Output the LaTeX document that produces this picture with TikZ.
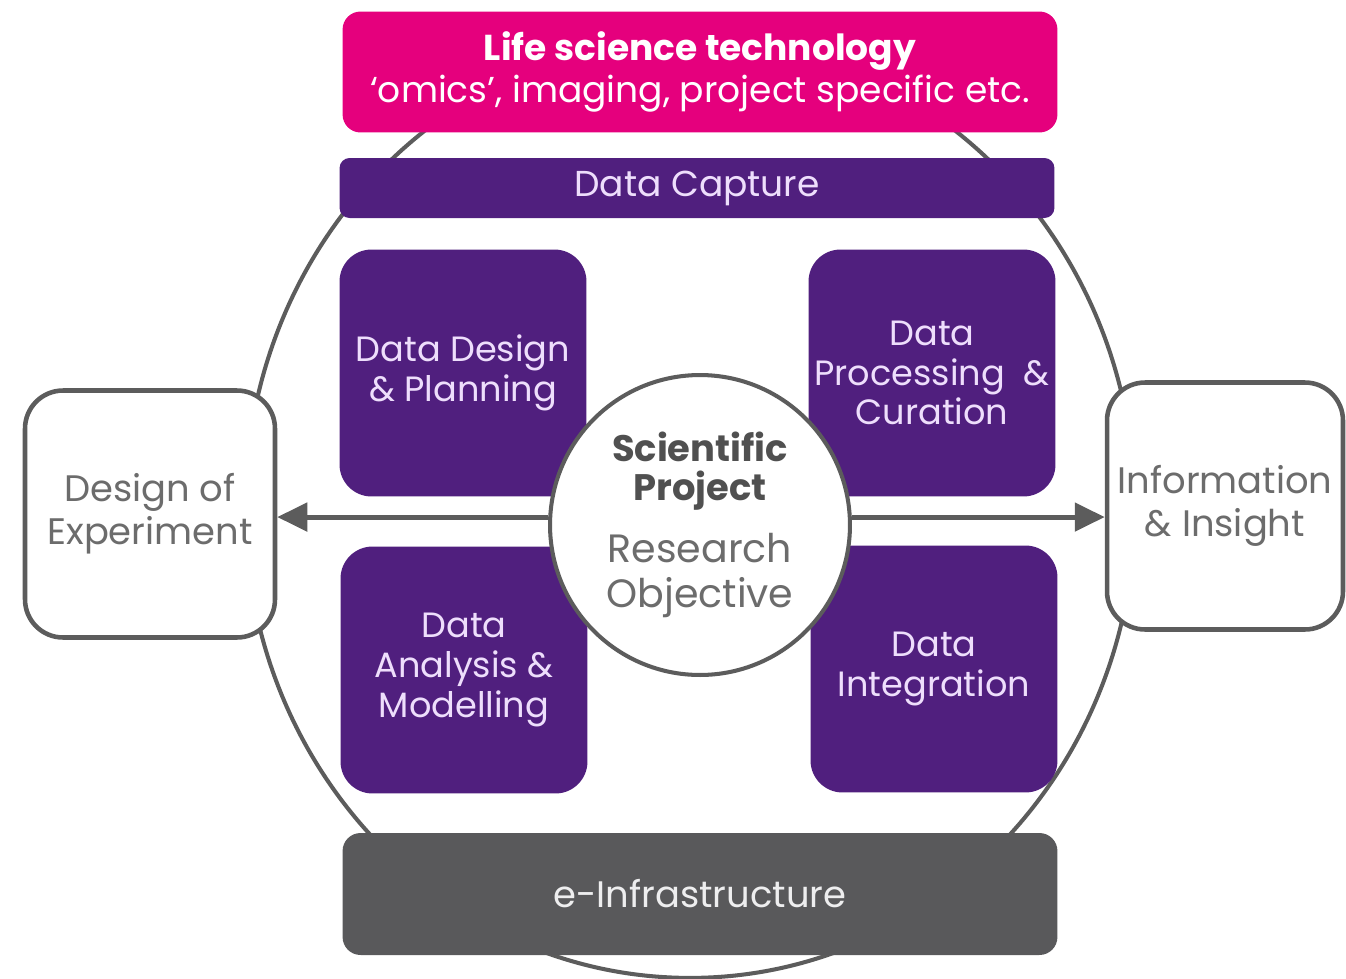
\documentclass[tikz,border=0pt]{standalone}
\usepackage{fontspec}
\setmainfont{Poppins}
\usetikzlibrary{arrows.meta}
\definecolor{lifepink}{RGB}{229,0,125}
\definecolor{datapurple}{RGB}{80,31,126}
\definecolor{lavender}{RGB}{238,222,252}
\definecolor{ringgray}{RGB}{92,92,92}
\definecolor{infragray}{RGB}{89,89,91}
\definecolor{textgray}{RGB}{108,108,108}
\definecolor{darkgray}{RGB}{80,80,80}
\tikzset{ring/.style={draw=ringgray, line width=2.3pt},
 band/.style={rounded corners=0.36cm, minimum width=14.3cm, inner sep=0pt, align=center},
 stage/.style={fill=datapurple, text=lavender, rounded corners=0.64cm,
  minimum width=4.94cm, minimum height=4.94cm, inner sep=0pt, align=center,
  font=\fontsize{20}{22.5}\selectfont},
 endbox/.style={draw=ringgray, line width=2.6pt, fill=white, text=textgray,
  rounded corners=0.76cm, minimum height=4.94cm, inner sep=0pt, align=center,
  font=\fontsize{21}{24.5}\selectfont},
 hub/.style={circle, draw=ringgray, line width=2.3pt, fill=white, minimum size=6cm,
  inner sep=0pt, align=center, text=textgray},
 flow/.style={draw=ringgray, line width=2.8pt, -{Triangle[length=0.6cm,width=0.56cm]}},
 }

\begin{document}
\begin{tikzpicture}[x=0.02cm, y=-0.02cm]
    \useasboundingbox (0,0) rectangle (1346,978);
    \draw[ring] (690,508) ellipse [x radius=8.9cm, y radius=9.4cm];
    \node[band, fill=lifepink, text=white, minimum height=2.42cm,
        font=\fontsize{20.5}{23.5}\selectfont] (tech) at (700,72)
        {\textbf{Life science technology}\\`omics', imaging, project specific etc.};
    \node[band, fill=datapurple, text=lavender, minimum height=1.2cm, rounded corners=0.2cm,
        font=\fontsize{20.5}{22.5}\selectfont] (capture) at (697,188) {Data Capture};
    \node[stage] (design) at (463,373) {Data Design\\\& Planning};
    \node[stage] (process) at (932,373) {Data\\Processing\ \ \&\\Curation};
    \node[stage] (analysis) at (464,670) {Data\\Analysis \&\\Modelling};
    \node[stage] (integrate) at (934,669) {Data\\Integration};
    \node[endbox, minimum width=5cm] (doe) at (150,514) {Design of\\Experiment};
    \node[endbox, minimum width=4.72cm] (info) at (1225,506) {Information\\\& Insight};
    \node[hub, font=\fontsize{21}{22.5}\selectfont] (project) at (700,525)
        {\textcolor{darkgray}{\textbf{Scientific}}\\\textcolor{darkgray}{\textbf{Project}}\\[12.5pt]
         {\fontsize{22.5}{22.5}\selectfont Research}\\[3.4pt]
         {\fontsize{22.5}{22.5}\selectfont Objective}};
    \draw[flow] (project.177) -- (project.177 -| doe.east);
    \draw[flow] (project.3) -- (project.3 -| info.west);
    \node[band, fill=infragray, text=white!90!infragray, minimum height=2.44cm,
        font=\fontsize{21}{26}\selectfont] (infra) at (700,894) {e-Infrastructure};
\end{tikzpicture}
\end{document}
